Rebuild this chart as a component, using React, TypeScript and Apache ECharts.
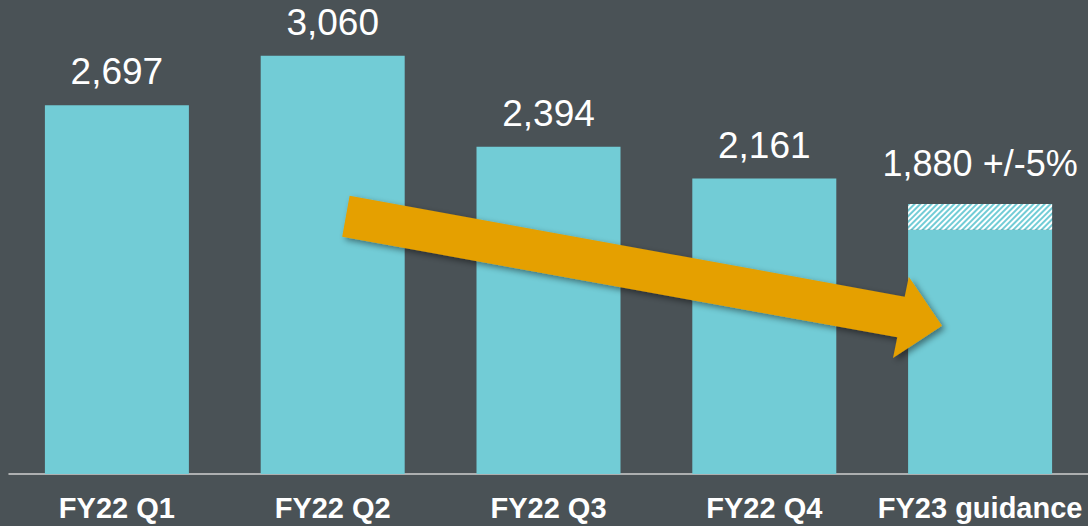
import React, { useEffect, useRef } from "react";
import * as echarts from "echarts";

const categories = ["FY22 Q1", "FY22 Q2", "FY22 Q3", "FY22 Q4", "FY23 guidance"];
const actualValues = [2697, 3060, 2394, 2161];
const guidanceValue = 1880;
const guidanceTolerance = 0.05;
const guidanceLabel = "1,880 +/-5%";

const fmt = (v: number) => v.toLocaleString("en-US");

export default function App() {
  const ref = useRef<HTMLDivElement>(null);
  useEffect(() => {
    if (!ref.current) return;
    const chart = echarts.init(ref.current, undefined, { renderer: "svg" });
    const low = Math.round(guidanceValue * (1 - guidanceTolerance));
    const high = Math.round(guidanceValue * (1 + guidanceTolerance));
    const solid = [...actualValues, low];
    const range = [null, null, null, null, high - low];
    const teal = "#72ccd6";
    chart.setOption({
      animation: false,
      backgroundColor: "#4a5256",
      grid: { left: 9, right: -2, top: 0, bottom: 52 },
      xAxis: {
        type: "category",
        data: categories,
        axisLine: { lineStyle: { color: "#cfcfcf", width: 1.5 } },
        axisTick: { show: false },
        axisLabel: {
          interval: 0,
          color: "#ffffff",
          fontWeight: "bold",
          fontSize: 29,
          fontFamily: "Liberation Sans, Arial, sans-serif",
          margin: 19,
        },
      },
      yAxis: { type: "value", min: 0, max: 3467, show: false },
      series: [
        {
          type: "bar",
          stack: "a",
          data: solid,
          barWidth: 144,
          itemStyle: { color: teal },
          label: {
            show: true,
            position: "top",
            distance: 15,
            color: "#ffffff",
            fontSize: 37,
            fontFamily: "Liberation Sans, Arial, sans-serif",
            formatter: (p: any) => (p.dataIndex < actualValues.length ? fmt(p.value) : ""),
          },
        },
        {
          type: "bar",
          stack: "a",
          data: range,
          barWidth: 144,
          itemStyle: {
            color: teal,
            decal: {
              symbol: "rect",
              symbolSize: 1,
              symbolKeepAspect: false,
              color: "#ffffff",
              dashArrayX: [1, 0],
              dashArrayY: [1.6, 1.4],
              rotation: -Math.PI / 4,
            },
          },
          label: {
            show: true,
            position: "top",
            distance: 23,
            color: "#ffffff",
            fontSize: 36,
            fontFamily: "Liberation Sans, Arial, sans-serif",
            formatter: () => guidanceLabel,
          },
        },
      ],
      graphic: [
        {
          type: "polygon",
          z: 100,
          shape: {
            points: [
              [349.6, 195.7],
              [904.7, 296.7],
              [908.8, 276.7],
              [942, 325.7],
              [893, 358],
              [897.3, 337.3],
              [342.2, 236.7],
            ],
          },
          style: {
            fill: "#e5a000",
            shadowColor: "rgba(0,0,0,0.45)",
            shadowBlur: 6,
            shadowOffsetX: 3,
            shadowOffsetY: 3,
          },
        },
      ],
    });
    return () => chart.dispose();
  }, []);
  return (
    <div
      ref={ref}
      style={{ position: "absolute", left: 0, top: 0, width: 1088, height: 526 }}
    />
  );
}
